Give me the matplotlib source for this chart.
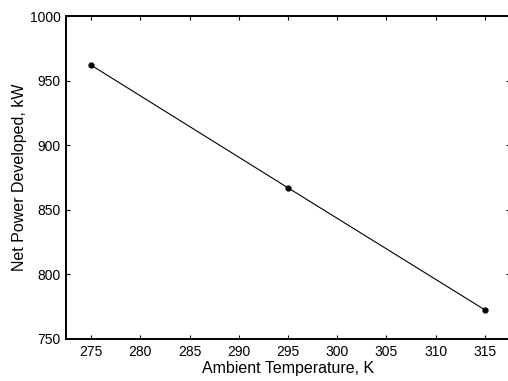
import matplotlib
matplotlib.use("Agg")
import matplotlib.pyplot as plt

temps = [275, 295, 315]
power = [962, 867, 772.5]
xticks = [275, 280, 285, 290, 295, 300, 305, 310, 315]
yticks = [750, 800, 850, 900, 950, 1000]

plt.rcParams['font.family'] = ['Liberation Sans', 'DejaVu Sans']
fig = plt.figure(figsize=(5.08, 3.81), dpi=100)
ax = fig.add_axes([66.4/508, 42/381, 443.2/508, 323/381])
ax.plot(temps, power, color='black', linewidth=0.8, marker='o', markersize=3.5)
ax.set_xlim(272.5, 317.5)
ax.set_ylim(750, 1000)
ax.set_xticks(xticks)
ax.set_yticks(yticks)
ax.tick_params(direction='in', top=True, right=True, length=3, width=0.8, labelsize=10, pad=4)
for s in ax.spines.values():
    s.set_linewidth(1.4)
ax.spines['right'].set_visible(False)
ax.set_xlabel('Ambient Temperature, K', fontsize=11.5, labelpad=2)
ax.set_ylabel('Net Power Developed, kW', fontsize=11.5, labelpad=2)
fig.savefig('out.png', dpi=100)
